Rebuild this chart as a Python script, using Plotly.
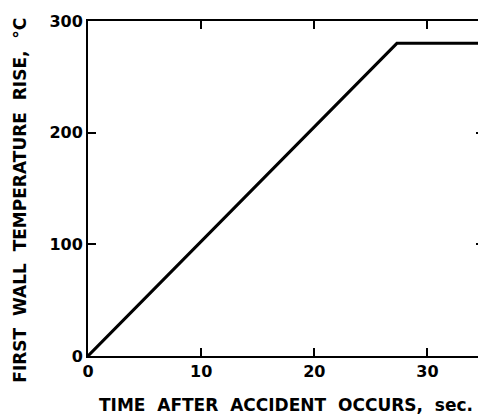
import plotly.graph_objects as go

time_s = [0, 27.3, 35]
temp_rise = [0, 280, 280]
x_ticks = [0, 10, 20, 30]
y_ticks = [0, 100, 200, 300]

fig = go.Figure()
fig.add_trace(go.Scatter(x=time_s, y=temp_rise, mode="lines",
                         line=dict(color="black", width=3), showlegend=False))

fig.update_layout(
    width=478, height=409,
    margin=dict(l=80, r=2, t=13, b=61),
    paper_bgcolor="white", plot_bgcolor="white",
    font=dict(family="DejaVu Sans", size=16, color="black"),
)
fig.update_xaxes(range=[0, 35], tickvals=x_ticks, ticks="inside", ticklen=8,
                 tickwidth=1.5, tickcolor="black", mirror="ticks", showline=True,
                 linecolor="black", linewidth=2, showgrid=False, zeroline=False,
                 automargin=False,
                 tickfont=dict(family="DejaVu Sans", size=16, weight="bold"),
                 title=dict(text="<b>TIME  AFTER  ACCIDENT  OCCURS,  sec.</b>",
                            font=dict(family="DejaVu Sans", size=17), standoff=19))
fig.update_yaxes(range=[0, 300], tickvals=y_ticks, ticks="inside", ticklen=8,
                 tickwidth=1.5, tickcolor="black", mirror="ticks", showline=True,
                 linecolor="black", linewidth=2, showgrid=False, zeroline=False,
                 automargin=False,
                 tickfont=dict(family="DejaVu Sans", size=16, weight="bold"))
fig.add_annotation(text="<b>FIRST  WALL  TEMPERATURE  RISE,  °C</b>",
                   textangle=-90, xref="paper", yref="paper",
                   x=-0.2, y=0.466, xanchor="left", yanchor="middle",
                   showarrow=False, borderpad=0,
                   font=dict(family="DejaVu Sans", size=17))
fig.write_html("out.html")
